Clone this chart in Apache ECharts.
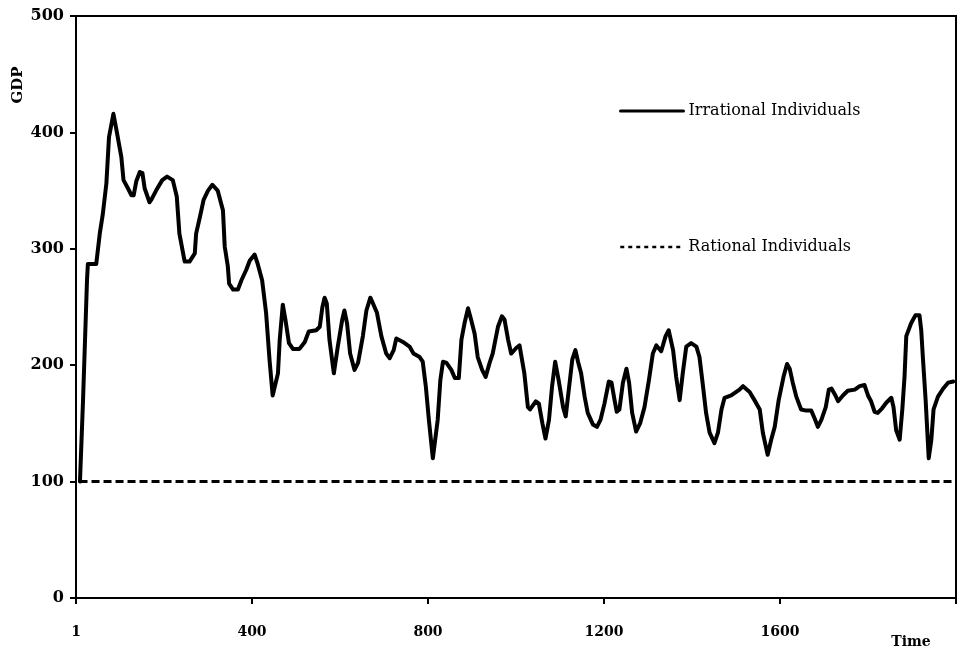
<!DOCTYPE html>
<html>
<head>
<meta charset="utf-8">
<script src="https://cdn.jsdelivr.net/npm/echarts@6/dist/echarts.min.js"></script>
<style>
html,body{margin:0;padding:0;background:#fff;}
#chart{width:960px;height:649px;}
</style>
</head>
<body>
<div id="chart"></div>
<script>
// Time ticks and labels
var xTickValues = [0, 400, 800, 1200, 1600, 2000];
var xTickLabels = ['1', '400', '800', '1200', '1600', ''];
var yTickValues = [0, 100, 200, 300, 400, 500];

// Series names
var seriesNames = ['Irrational Individuals', 'Rational Individuals'];

// Irrational individuals GDP: [time, GDP]
var irrationalTime = [9,16,25,27,46,54,61,69,75,85,92,103,108,118,126,131,137,145,151,156,167,171,182,196,207,220,229,235,247,258,270,273,282,290,300,310,322,334,338,345,348,357,368,376,387,395,406,413,423,432,440,447,459,463,470,476,484,493,508,520,529,546,554,560,565,570,576,586,595,605,610,616,623,633,641,652,660,669,675,684,694,705,713,722,728,743,758,767,781,788,795,802,811,822,828,834,842,853,861,870,876,883,891,898,906,913,923,931,940,947,959,968,974,982,989,1001,1008,1012,1019,1027,1032,1045,1052,1060,1067,1075,1082,1089,1097,1107,1113,1120,1128,1135,1141,1148,1156,1163,1175,1184,1192,1201,1211,1217,1224,1229,1235,1243,1251,1257,1264,1273,1282,1292,1302,1311,1319,1330,1340,1347,1357,1364,1372,1379,1387,1398,1410,1417,1425,1432,1440,1451,1459,1467,1474,1489,1508,1516,1531,1542,1554,1561,1572,1580,1588,1597,1608,1616,1622,1629,1637,1648,1660,1671,1679,1686,1694,1704,1711,1717,1726,1732,1743,1754,1770,1781,1792,1800,1807,1815,1822,1832,1842,1853,1858,1864,1872,1878,1883,1887,1898,1908,1917,1921,1925,1931,1938,1944,1949,1959,1971,1982,1994];
var irrationalGDP = [100,170,273,287,287,313,330,356,396,416,402,379,359,352,346,346,358,366,365,352,340,342,350,359,362,359,345,313,289,289,296,313,328,342,350,355,350,333,302,285,270,265,265,273,282,290,295,287,273,245,204,174,193,222,252,239,219,214,214,220,229,230,233,250,258,253,222,193,216,239,247,236,210,196,202,225,247,258,253,245,225,210,206,213,223,220,216,210,207,203,182,153,120,153,187,203,202,196,189,189,222,236,249,239,227,207,196,190,202,210,233,242,239,222,210,215,217,216,193,164,162,169,167,150,137,153,182,203,187,164,156,179,205,213,203,193,173,159,149,147,153,167,186,185,170,160,162,185,197,185,159,143,150,164,187,210,217,212,225,230,213,190,170,193,216,219,216,207,182,159,142,133,142,162,172,174,179,182,177,170,162,142,123,136,147,170,190,201,197,185,173,162,161,161,154,147,153,164,179,180,174,169,174,178,179,182,183,174,169,160,159,163,168,172,164,144,136,162,190,225,236,243,243,230,205,170,120,136,162,173,180,185,186];

// Rational individuals GDP: [time, GDP]
var rationalTime = [8, 1990];
var rationalGDP = [100, 100];

function pairs(xs, ys) {
  var out = [];
  for (var i = 0; i < xs.length; i++) out.push([xs[i], ys[i]]);
  return out;
}

var serifFont = 'DejaVu Serif';
var legendCommon = {
  left: 614, itemWidth: 63, itemHeight: 14, itemGap: 8,
  itemStyle: {opacity: 0},
  textStyle: {fontFamily: serifFont, fontSize: 16, color: '#000'}
};
var chart = echarts.init(document.getElementById('chart'), null, {renderer: 'canvas'});
chart.setOption({
  animation: false,
  backgroundColor: '#ffffff',
  grid: {
    left: 76, right: 4, top: 16, bottom: 51,
    show: true, borderColor: '#000', borderWidth: 2, backgroundColor: 'transparent'
  },
  legend: [
    Object.assign({data: [seriesNames[0]], top: 98, lineStyle: {width: 3}}, legendCommon),
    Object.assign({data: [seriesNames[1]], top: 234, lineStyle: {width: 2.5, type: [4, 4]}}, legendCommon)
  ],
  xAxis: {
    type: 'value', min: xTickValues[0], max: xTickValues[xTickValues.length - 1], interval: 400,
    axisLine: {show: true, lineStyle: {color: '#000', width: 2}},
    axisTick: {show: true, length: 6, lineStyle: {color: '#000', width: 2}},
    axisLabel: {
      margin: 27, color: '#000', fontFamily: serifFont, fontSize: 14, fontWeight: 'bold',
      formatter: function (v) { var i = xTickValues.indexOf(v); return i >= 0 ? xTickLabels[i] : ''; }
    },
    splitLine: {show: false}
  },
  yAxis: {
    type: 'value', min: yTickValues[0], max: yTickValues[yTickValues.length - 1], interval: 100,
    axisLine: {show: true, lineStyle: {color: '#000', width: 2}},
    axisTick: {show: true, length: 6, lineStyle: {color: '#000', width: 2}},
    axisLabel: {margin: 12, color: '#000', fontFamily: serifFont, fontSize: 16, fontWeight: 'bold'},
    splitLine: {show: false}
  },
  graphic: [
    {type: 'text', x: 18, y: 85, rotation: Math.PI / 2,
     style: {text: 'GDP', fill: '#000', font: 'bold 15px "DejaVu Serif"', textAlign: 'center', textVerticalAlign: 'middle'}},
    {type: 'text', x: 911, y: 642,
     style: {text: 'Time', fill: '#000', font: 'bold 14px "DejaVu Serif"', textAlign: 'center', textVerticalAlign: 'middle'}}
  ],
  series: [
    {
      name: seriesNames[0], type: 'line', data: pairs(irrationalTime, irrationalGDP),
      showSymbol: false, symbol: 'none', smooth: false,
      lineStyle: {color: '#000', width: 4, join: 'round', cap: 'round'},
      itemStyle: {color: '#000'}
    },
    {
      name: seriesNames[1], type: 'line', data: pairs(rationalTime, rationalGDP),
      showSymbol: false, symbol: 'none',
      lineStyle: {color: '#000', width: 3, type: [8, 4]},
      itemStyle: {color: '#000'}
    }
  ]
});
</script>
</body>
</html>
